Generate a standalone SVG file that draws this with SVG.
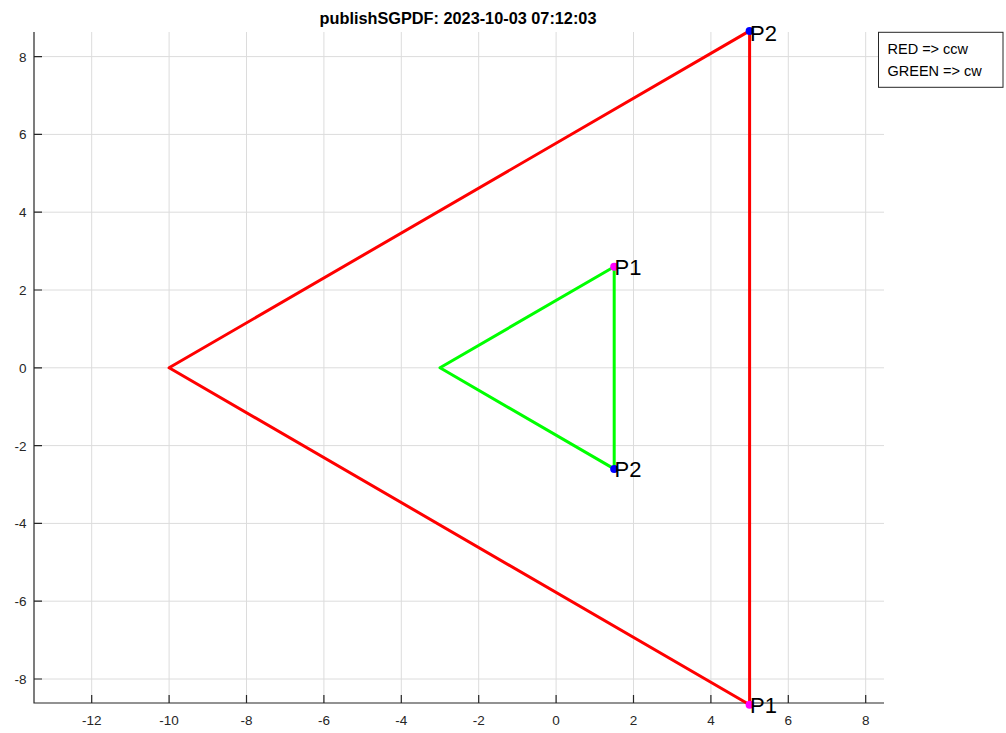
<svg xmlns="http://www.w3.org/2000/svg" width="1006" height="733" viewBox="0 0 1006 733">
<style>
.grid{stroke:#dcdcdc;stroke-width:1;fill:none}
.axis{stroke:#262626;stroke-width:1.2;fill:none}
.tl{font-family:"Liberation Sans",Arial,sans-serif;font-size:13.5px;fill:#262626}
.lbl{font-family:"Liberation Sans",Arial,sans-serif;font-size:22px;fill:#000}
.red{stroke:#ff0000;stroke-width:3;fill:none;stroke-linejoin:round}
.green{stroke:#00ff00;stroke-width:3;fill:none;stroke-linejoin:round}
.m1{fill:#ff00ff}
.m2{fill:#0000ff}
.leg{font-family:"Liberation Sans",Arial,sans-serif;font-size:14.5px;fill:#000}
</style>
<rect width="1006" height="733" fill="#fff"/>
<g id="grid">
<path class="grid" d="M91.7 32V703M169.1 32V703M246.5 32V703M323.9 32V703M401.3 32V703M478.7 32V703M556.1 32V703M633.5 32V703M710.9 32V703M788.3 32V703M865.7 32V703"/>
<path class="grid" d="M34 56.6H884M34 134.4H884M34 212.2H884M34 290H884M34 367.8H884M34 445.6H884M34 523.4H884M34 601.2H884M34 679H884"/>
</g>
<g id="axes">
<path class="axis" d="M34 32V703H884"/>
<path class="axis" d="M91.7 703v-8M169.1 703v-8M246.5 703v-8M323.9 703v-8M401.3 703v-8M478.7 703v-8M556.1 703v-8M633.5 703v-8M710.9 703v-8M788.3 703v-8M865.7 703v-8"/>
<path class="axis" d="M34 56.6h8M34 134.4h8M34 212.2h8M34 290h8M34 367.8h8M34 445.6h8M34 523.4h8M34 601.2h8M34 679h8"/>
<g class="tl" text-anchor="middle">
<text x="91.7" y="725">-12</text><text x="169.1" y="725">-10</text><text x="246.5" y="725">-8</text><text x="323.9" y="725">-6</text><text x="401.3" y="725">-4</text><text x="478.7" y="725">-2</text><text x="556.1" y="725">0</text><text x="633.5" y="725">2</text><text x="710.9" y="725">4</text><text x="788.3" y="725">6</text><text x="865.7" y="725">8</text>
</g>
<g class="tl" text-anchor="end">
<text x="26.5" y="61.5">8</text><text x="26.5" y="139.3">6</text><text x="26.5" y="217.1">4</text><text x="26.5" y="294.9">2</text><text x="26.5" y="372.7">0</text><text x="26.5" y="450.5">-2</text><text x="26.5" y="528.3">-4</text><text x="26.5" y="606.1">-6</text><text x="26.5" y="683.9">-8</text>
</g>
</g>
<text id="title" x="458" y="23.5" text-anchor="middle" font-family="Liberation Sans,Arial,sans-serif" font-weight="bold" font-size="16.3" fill="#000">publishSGPDF: 2023-10-03 07:12:03</text>
<g id="connectors">
<polyline class="red" points="749.6,704.7 169.1,367.8 749.6,30.9 749.6,704.7"/>
<polyline class="green" points="614.2,266.7 440,367.8 614.2,468.9 614.2,266.7"/>
</g>
<g id="red-P1"><circle class="m1" cx="749.6" cy="704.7" r="4"/><text class="lbl" x="750" y="712.5">P1</text></g>
<g id="red-P2"><circle class="m2" cx="749.6" cy="30.9" r="4"/><text class="lbl" x="750" y="40.5">P2</text></g>
<g id="green-P1"><circle class="m1" cx="614.2" cy="266.7" r="4"/><text class="lbl" x="614.5" y="275">P1</text></g>
<g id="green-P2"><circle class="m2" cx="614.2" cy="468.9" r="4"/><text class="lbl" x="614.5" y="477">P2</text></g>
<g id="legend">
<rect x="878.5" y="32.3" width="124.5" height="55" fill="#fff" stroke="#262626" stroke-width="1"/>
<text class="leg" x="887.5" y="54">RED =&gt; ccw</text>
<text class="leg" x="887.5" y="75.5">GREEN =&gt; cw</text>
</g>
</svg>
